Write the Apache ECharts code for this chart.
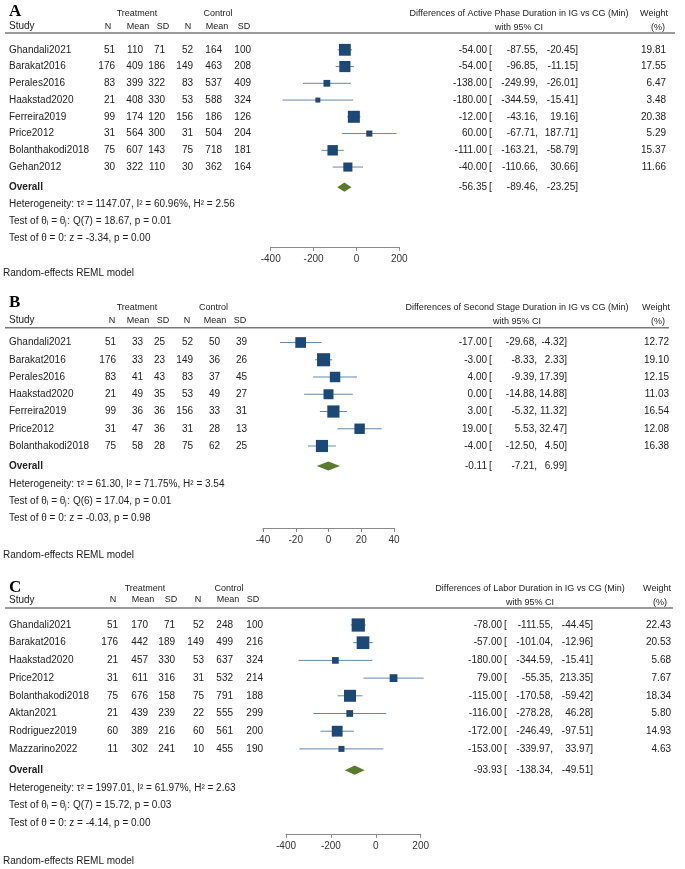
<!DOCTYPE html>
<html>
<head>
<meta charset="utf-8">
<script src="https://cdn.jsdelivr.net/npm/echarts@6/dist/echarts.min.js"></script>
<style>
html, body { margin: 0; padding: 0; background: #fff; }
#main { width: 685px; height: 869px; }
</style>
</head>
<body>
<div id="main"></div>
<script>
// ---- panel A: active phase ----
var studiesA = ['Ghandali2021', 'Barakat2016', 'Perales2016', 'Haakstad2020', 'Ferreira2019', 'Price2012', 'Bolanthakodi2018', 'Gehan2012'];
var treatNA = [51, 176, 83, 21, 99, 31, 75, 30];
var treatMeanA = [110, 409, 399, 408, 174, 564, 607, 322];
var treatSdA = [71, 186, 322, 330, 120, 300, 143, 110];
var ctrlNA = [52, 149, 83, 53, 156, 31, 75, 30];
var ctrlMeanA = [164, 463, 537, 588, 186, 504, 718, 362];
var ctrlSdA = [100, 208, 409, 324, 126, 204, 181, 164];
var diffA = [-54, -54, -138, -180, -12, 60, -111, -40];
var lowA = [-87.55, -96.85, -249.99, -344.59, -43.16, -67.71, -163.21, -110.66];
var highA = [-20.45, -11.15, -26.01, -15.41, 19.16, 187.71, -58.79, 30.66];
var weightA = [19.81, 17.55, 6.47, 3.48, 20.38, 5.29, 15.37, 11.66];
var overallA = [-56.35, -89.46, -23.25];
var statsA = ['Heterogeneity: τ² = 1147.07, I² = 60.96%, H² = 2.56', 'Test of θᵢ = θⱼ: Q(7) = 18.67, p = 0.01', 'Test of θ = 0: z = -3.34, p = 0.00'];
var ticksA = [-400, -200, 0, 200];

// ---- panel B: second stage ----
var studiesB = ['Ghandali2021', 'Barakat2016', 'Perales2016', 'Haakstad2020', 'Ferreira2019', 'Price2012', 'Bolanthakodi2018'];
var treatNB = [51, 176, 83, 21, 99, 31, 75];
var treatMeanB = [33, 33, 41, 49, 36, 47, 58];
var treatSdB = [25, 23, 43, 35, 36, 36, 28];
var ctrlNB = [52, 149, 83, 53, 156, 31, 75];
var ctrlMeanB = [50, 36, 37, 49, 33, 28, 62];
var ctrlSdB = [39, 26, 45, 27, 31, 13, 25];
var diffB = [-17, -3, 4, 0, 3, 19, -4];
var lowB = [-29.68, -8.33, -9.39, -14.88, -5.32, 5.53, -12.50];
var highB = [-4.32, 2.33, 17.39, 14.88, 11.32, 32.47, 4.50];
var weightB = [12.72, 19.10, 12.15, 11.03, 16.54, 12.08, 16.38];
var overallB = [-0.11, -7.21, 6.99];
var statsB = ['Heterogeneity: τ² = 61.30, I² = 71.75%, H² = 3.54', 'Test of θᵢ = θⱼ: Q(6) = 17.04, p = 0.01', 'Test of θ = 0: z = -0.03, p = 0.98'];
var ticksB = [-40, -20, 0, 20, 40];

// ---- panel C: labor duration ----
var studiesC = ['Ghandali2021', 'Barakat2016', 'Haakstad2020', 'Price2012', 'Bolanthakodi2018', 'Aktan2021', 'Rodriguez2019', 'Mazzarino2022'];
var treatNC = [51, 176, 21, 31, 75, 21, 60, 11];
var treatMeanC = [170, 442, 457, 611, 676, 439, 389, 302];
var treatSdC = [71, 189, 330, 316, 158, 239, 216, 241];
var ctrlNC = [52, 149, 53, 31, 75, 22, 60, 10];
var ctrlMeanC = [248, 499, 637, 532, 791, 555, 561, 455];
var ctrlSdC = [100, 216, 324, 214, 188, 299, 200, 190];
var diffC = [-78, -57, -180, 79, -115, -116, -172, -153];
var lowC = [-111.55, -101.04, -344.59, -55.35, -170.58, -278.28, -246.49, -339.97];
var highC = [-44.45, -12.96, -15.41, 213.35, -59.42, 46.28, -97.51, 33.97];
var weightC = [22.43, 20.53, 5.68, 7.67, 18.34, 5.80, 14.93, 4.63];
var overallC = [-93.93, -138.34, -49.51];
var statsC = ['Heterogeneity: τ² = 1997.01, I² = 61.97%, H² = 2.63', 'Test of θᵢ = θⱼ: Q(7) = 15.72, p = 0.03', 'Test of θ = 0: z = -4.14, p = 0.00'];
var ticksC = [-400, -200, 0, 200];

var FONT = '"Liberation Sans", Arial, Helvetica, sans-serif';
var SERIF = '"Liberation Serif", "Times New Roman", serif';
var TXT = '#222';
var SQ = '#1c4876';
var CI = '#6688aa';
var DIA = '#5b7b2c';
var AXIS = '#8a8a8a';

var panels = [
    {
        letter: 'A', title: 'Differences of Active Phase Duration in IG vs CG (Min)',
        studies: studiesA, cols: [treatNA, treatMeanA, treatSdA, ctrlNA, ctrlMeanA, ctrlSdA],
        diff: diffA, low: lowA, high: highA, weight: weightA, overall: overallA, stats: statsA, ticks: ticksA,
        lay: {
            rowTop: 49.8, step: 16.75, overallRow: 8.2, statsRow: 9.25, axisRow: 11.77, remlY: 273,
            gridLeft: 270.7, gridRight: 399.3, sq: 2.66,
            letterY: 12, headY1: 13.5, headY2: 26.5, headY2R: 28, ruleY: 33, ruleX2: 675,
            colsRight: [115, 143, 165, 193, 222, 251], colsHead: [108, 138, 163, 188, 217, 244],
            treatX: 137, ctrlX: 218, titleX: 519, weightX1: 654, weightX2: 658,
            estRight: 487, bracketX: 489, loRight: 538, hiRight: 578, wRight: 666
        }
    },
    {
        letter: 'B', title: 'Differences of Second Stage Duration in IG vs CG (Min)',
        studies: studiesB, cols: [treatNB, treatMeanB, treatSdB, ctrlNB, ctrlMeanB, ctrlSdB],
        diff: diffB, low: lowB, high: highB, weight: weightB, overall: overallB, stats: statsB, ticks: ticksB,
        lay: {
            rowTop: 342.5, step: 17.25, overallRow: 7.16, statsRow: 8.2, axisRow: 10.75, remlY: 555,
            gridLeft: 263, gridRight: 394, sq: 3.0,
            letterY: 303, headY1: 308, headY2: 320.5, headY2R: 322, ruleY: 327.7, ruleX2: 669,
            colsRight: [116, 143, 165, 193, 220, 247], colsHead: [112, 138, 163, 187, 215, 240],
            treatX: 137, ctrlX: 213.5, titleX: 517, weightX1: 656, weightX2: 658,
            estRight: 487, bracketX: 489, loRight: 537, hiRight: 567, wRight: 669
        }
    },
    {
        letter: 'C', title: 'Differences of Labor Duration in IG vs CG (Min)',
        studies: studiesC, cols: [treatNC, treatMeanC, treatSdC, ctrlNC, ctrlMeanC, ctrlSdC],
        diff: diffC, low: lowC, high: highC, weight: weightC, overall: overallC, stats: statsC, ticks: ticksC,
        lay: {
            rowTop: 625, step: 17.7, overallRow: 8.2, statsRow: 9.2, axisRow: 11.8, remlY: 861,
            gridLeft: 286, gridRight: 420.7, sq: 2.8,
            letterY: 588, headY1: 589, headY2: 600, headY2R: 603, ruleY: 608, ruleX2: 673,
            colsRight: [118, 148, 175, 204, 233, 263], colsHead: [113, 143, 171, 198, 228, 253],
            treatX: 145, ctrlX: 229, titleX: 530, weightX1: 657, weightX2: 660,
            estRight: 502, bracketX: 504, loRight: 553, hiRight: 593, wRight: 671
        }
    }
];

function label(x, y, s, size, align, weight, family, color) {
    var f = (weight || 'normal') + ' ' + size + 'px ' + (family || FONT);
    return {
        type: 'text', x: x, y: y, silent: true,
        style: {
            text: s, font: f, fill: color || TXT,
            textAlign: align, textVerticalAlign: 'middle',
            align: align, verticalAlign: 'middle'
        }
    };
}

var grids = [], xAxes = [], yAxes = [], series = [], graphics = [];

panels.forEach(function (p, k) {
    var L = p.lay;
    var top = L.rowTop - 0.5 * L.step;
    grids.push({
        left: L.gridLeft, width: L.gridRight - L.gridLeft,
        top: top, height: (L.axisRow + 0.5) * L.step,
        containLabel: false, outerBoundsMode: 'none'
    });
    xAxes.push({
        type: 'value', gridIndex: k, position: 'bottom',
        min: p.ticks[0], max: p.ticks[p.ticks.length - 1], interval: p.ticks[1] - p.ticks[0],
        axisLine: { show: true, onZero: false, lineStyle: { color: AXIS, width: 1 } },
        axisTick: { show: true, length: 4, lineStyle: { color: AXIS } },
        splitLine: { show: false },
        axisLabel: { fontFamily: FONT, fontSize: 10, color: '#333', margin: 7 }
    });
    yAxes.push({
        type: 'value', gridIndex: k, inverse: true, min: -0.5, max: L.axisRow, show: false
    });

    // table text for each study row
    series.push({
        type: 'custom', xAxisIndex: k, yAxisIndex: k, silent: true,
        data: p.studies.map(function (s, i) { return [0, i]; }),
        renderItem: function (params, api) {
            var i = params.dataIndex;
            var y = api.coord([0, i])[1];
            var kids = [label(9, y, p.studies[i], 10, 'left')];
            p.cols.forEach(function (col, c) {
                kids.push(label(L.colsRight[c], y, String(col[i]), 10, 'right'));
            });
            kids.push(label(L.estRight, y, p.diff[i].toFixed(2), 10, 'right'));
            kids.push(label(L.bracketX, y, '[', 10, 'left'));
            kids.push(label(L.loRight, y, p.low[i].toFixed(2) + ',', 10, 'right'));
            kids.push(label(L.hiRight, y, p.high[i].toFixed(2) + ']', 10, 'right'));
            kids.push(label(L.wRight, y, p.weight[i].toFixed(2), 10, 'right'));
            return { type: 'group', children: kids };
        }
    });

    // CI lines and weighted squares
    series.push({
        type: 'custom', xAxisIndex: k, yAxisIndex: k, silent: true,
        data: p.studies.map(function (s, i) { return [i, p.diff[i], p.low[i], p.high[i], p.weight[i]]; }),
        encode: { x: [1, 2, 3], y: 0 },
        renderItem: function (params, api) {
            var i = api.value(0);
            var c = api.coord([api.value(1), i]);
            var a = api.coord([api.value(2), i]);
            var b = api.coord([api.value(3), i]);
            var s = L.sq * Math.sqrt(api.value(4));
            return {
                type: 'group', children: [
                    { type: 'line', shape: { x1: a[0], y1: a[1], x2: b[0], y2: b[1] }, style: { stroke: CI, lineWidth: 1 } },
                    { type: 'rect', shape: { x: c[0] - s / 2, y: c[1] - s / 2, width: s, height: s }, style: { fill: SQ } }
                ]
            };
        }
    });

    // overall diamond + its text
    series.push({
        type: 'custom', xAxisIndex: k, yAxisIndex: k, silent: true,
        data: [[p.overall[0], L.overallRow, p.overall[1], p.overall[2]]],
        encode: { x: [0, 2, 3], y: 1 },
        renderItem: function (params, api) {
            var r = api.value(1);
            var c = api.coord([api.value(0), r]);
            var a = api.coord([api.value(2), r]);
            var b = api.coord([api.value(3), r]);
            var h = 4.6;
            return {
                type: 'group', children: [
                    { type: 'polygon', shape: { points: [[a[0], c[1]], [c[0], c[1] - h], [b[0], c[1]], [c[0], c[1] + h]] }, style: { fill: DIA } },
                    label(9, c[1], 'Overall', 10, 'left', 'bold'),
                    label(L.estRight, c[1], p.overall[0].toFixed(2), 10, 'right'),
                    label(L.bracketX, c[1], '[', 10, 'left'),
                    label(L.loRight, c[1], p.overall[1].toFixed(2) + ',', 10, 'right'),
                    label(L.hiRight, c[1], p.overall[2].toFixed(2) + ']', 10, 'right')
                ]
            };
        }
    });

    // headers
    graphics.push(label(9, L.letterY, p.letter, 17, 'left', 'bold', SERIF, '#000'));
    graphics.push(label(L.treatX, L.headY1, 'Treatment', 9, 'center'));
    graphics.push(label(L.ctrlX, L.headY1, 'Control', 9, 'center'));
    graphics.push(label(9, L.headY2, 'Study', 10, 'left'));
    ['N', 'Mean', 'SD', 'N', 'Mean', 'SD'].forEach(function (h, c) {
        graphics.push(label(L.colsHead[c], L.headY2, h, 9, 'center'));
    });
    graphics.push(label(L.titleX, L.headY1, p.title, 9, 'center'));
    graphics.push(label(L.titleX, L.headY2R, 'with 95% CI', 9, 'center'));
    graphics.push(label(L.weightX1, L.headY1, 'Weight', 9, 'center'));
    graphics.push(label(L.weightX2, L.headY2R, '(%)', 9, 'center'));
    graphics.push({
        type: 'line', silent: true,
        shape: { x1: 5, y1: L.ruleY, x2: L.ruleX2, y2: L.ruleY },
        style: { stroke: '#7a7a7a', lineWidth: 1.5 }
    });
    p.stats.forEach(function (s, j) {
        graphics.push(label(9, L.rowTop + (L.statsRow + j) * L.step, s, 10, 'left'));
    });
    graphics.push(label(3, L.remlY, 'Random-effects REML model', 10, 'left'));
});

var myChart = echarts.init(document.getElementById('main'));
myChart.setOption({
    animation: false,
    grid: grids,
    xAxis: xAxes,
    yAxis: yAxes,
    series: series,
    graphic: graphics
});
</script>
</body>
</html>
